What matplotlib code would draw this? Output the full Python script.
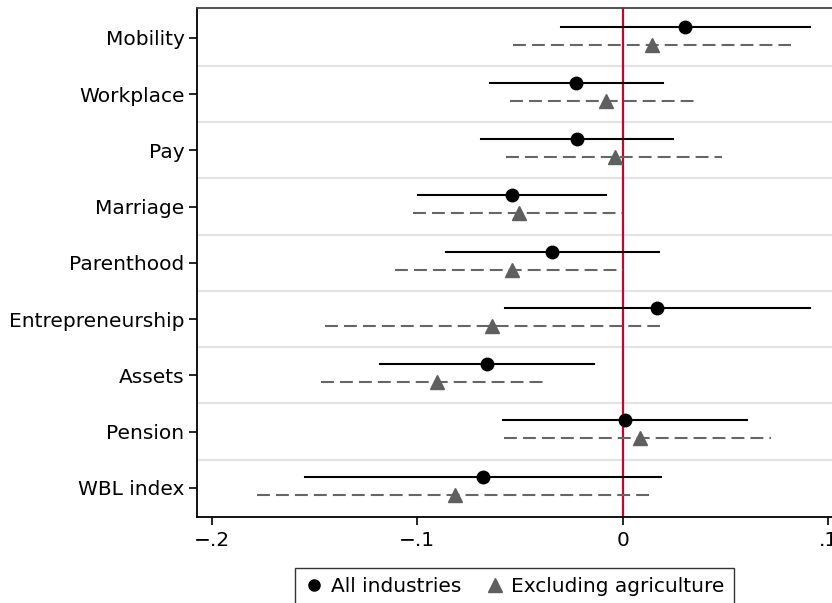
import matplotlib
matplotlib.use("Agg")
import matplotlib.pyplot as plt
from matplotlib.lines import Line2D

categories = ["Mobility", "Workplace", "Pay", "Marriage", "Parenthood",
              "Entrepreneurship", "Assets", "Pension", "WBL index"]

all_est = [0.0304, -0.0228, -0.0224, -0.0538, -0.0343, 0.0169, -0.0661, 0.0012, -0.0680]
all_lo = [-0.0301, -0.0645, -0.0692, -0.0996, -0.0859, -0.0573, -0.1180, -0.0583, -0.1547]
all_hi = [0.0910, 0.0196, 0.0247, -0.0083, 0.0176, 0.0910, -0.0139, 0.0606, 0.0185]

exag_est = [0.0142, -0.0079, -0.0039, -0.0504, -0.0538, -0.0637, -0.0905, 0.0086, -0.0818]
exag_lo = [-0.0536, -0.0550, -0.0566, -0.1020, -0.1110, -0.1450, -0.1470, -0.0577, -0.1780]
exag_hi = [0.0819, 0.0368, 0.0483, -0.0003, 0.0000, 0.0180, -0.0363, 0.0724, 0.0140]

xticks = [-0.2, -0.1, 0.0, 0.1]
xtick_labels = ["\u2212.2", "\u2212.1", "0", ".1"]

plt.rcParams['font.family'] = ['DejaVu Sans']
FS = 14.5

fig = plt.figure(figsize=(8.32, 6.03), dpi=100)
ax = fig.add_axes([197/832, 1 - 517/603, (832 - 197)/832, (517 - 8)/603])

ypos = list(range(1, len(categories) + 1))
off_a = -0.20
off_b = 0.12

for k in range(1, len(categories)):
    ax.axhline(k + 0.5, color="#e3e3e3", lw=1.6, zorder=0)

ax.axvline(0, color="#c10534", lw=1.6, zorder=1)

for i, y in enumerate(ypos):
    ax.plot([all_lo[i], all_hi[i]], [y + off_a] * 2, color="black", lw=1.5, zorder=2)
    ax.plot([exag_lo[i], exag_hi[i]], [y + off_b] * 2, color="#666666", lw=1.5,
            ls=(0, (6.2, 2.9)), zorder=2)

ax.plot(all_est, [y + off_a for y in ypos], 'o', color="black", ms=9, zorder=3)
ax.plot(exag_est, [y + off_b for y in ypos], '^', color="#5f5f5f", ms=10.5, zorder=3)

ax.set_xlim(-0.2072, 0.1019)
ax.set_ylim(9.52, 0.47)
ax.set_yticks(ypos)
ax.set_yticklabels(categories, fontsize=FS)
ax.set_xticks(xticks)
ax.set_xticklabels(xtick_labels, fontsize=FS)
ax.tick_params(axis='both', direction='out', length=6, width=1.2, color='black')
ax.tick_params(axis='y', pad=3)
ax.tick_params(axis='x', pad=4)

for s in ['left', 'bottom']:
    ax.spines[s].set_color('black')
    ax.spines[s].set_linewidth(1.3)
ax.spines['top'].set_color('#444444')
ax.spines['top'].set_linewidth(1.3)
ax.spines['right'].set_visible(False)

handles = [Line2D([], [], marker='o', color='black', ls='none', ms=8),
           Line2D([], [], marker='^', color='#5f5f5f', ls='none', ms=10)]
leg = ax.legend(handles, ["All industries", "Excluding agriculture"], loc='upper center',
                bbox_to_anchor=(0.5, -0.1002), ncol=2, fontsize=FS, frameon=True,
                fancybox=False, edgecolor='black', handletextpad=0.3, columnspacing=1.2,
                handlelength=1.0, borderpad=0.45, borderaxespad=0.0)
leg.get_frame().set_linewidth(1.0)

fig.savefig("out.png", dpi=100)
